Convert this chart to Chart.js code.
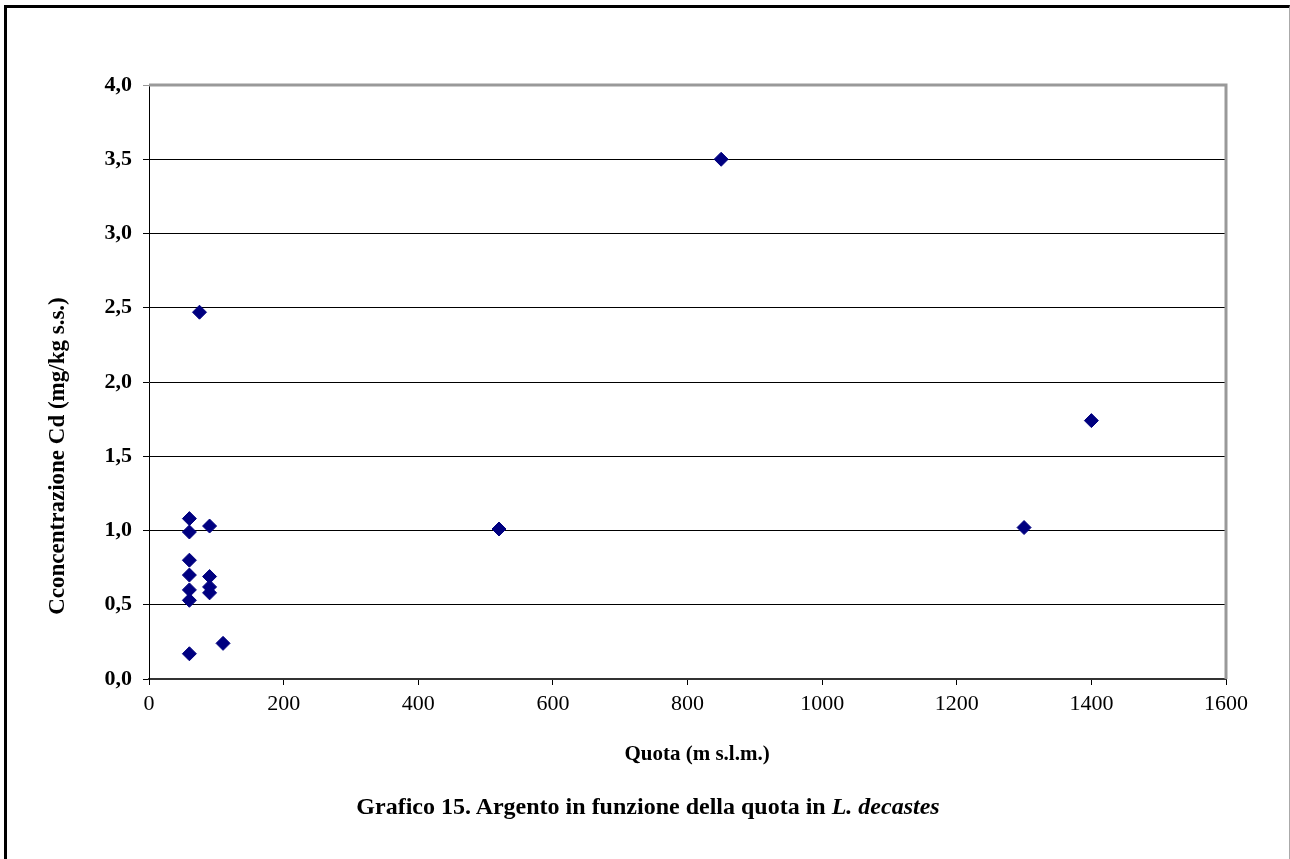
<!DOCTYPE html>
<html>
<head>
<meta charset="utf-8">
<script src="https://cdn.jsdelivr.net/npm/chart.js@4/dist/chart.umd.min.js"></script>
<style>
  html, body { margin: 0; padding: 0; background: #fff; }
  #wrap { position: relative; width: 1290px; height: 859px; }
  #frame {
    position: absolute; left: 4px; top: 5px; width: 1286px; height: 860px;
    border-left: 3px solid #000; border-top: 3px solid #000; border-right: 1px solid #aaa;
    box-sizing: border-box; pointer-events: none;
  }
  #caption {
    position: absolute; left: 0; width: 1296px; top: 793px; text-align: center;
    font-family: 'Liberation Serif', 'Times New Roman', serif; font-weight: bold; font-size: 24px; color: #000;
  }
</style>
</head>
<body>
<div id="wrap">
  <canvas id="chart-quota"></canvas>
  <div id="frame"></div>
  <div id="caption">Grafico 15. Argento in funzione della quota in <i>L. decastes</i></div>
</div>
<script>
// Quota (m s.l.m.) vs concentrazione Cd (mg/kg s.s.)
const quota   = [60, 60, 90, 60, 60, 60, 60, 90, 90, 90, 60, 110, 75, 850, 520, 1300, 1400];
const cadmio  = [1.08, 0.99, 1.03, 0.80, 0.70, 0.60, 0.53, 0.69, 0.62, 0.58, 0.17, 0.24, 2.47, 3.50, 1.01, 1.02, 1.74];
const xTicks  = [0, 200, 400, 600, 800, 1000, 1200, 1400, 1600];
const yTicks  = [0, 0.5, 1, 1.5, 2, 2.5, 3, 3.5, 4];
const xTitle  = 'Quota (m s.l.m.)';
const yTitle  = 'Cconcentrazione Cd (mg/kg s.s.)';

const serif = 'Liberation Serif';

// grey frame round the plot area (top + right) and the axis titles
const plotFrame = {
  id: 'plotFrame',
  afterDatasetsDraw(chart) {
    const { ctx, chartArea: a } = chart;
    ctx.save();
    ctx.strokeStyle = '#999';
    ctx.lineWidth = 3;
    ctx.beginPath();
    ctx.moveTo(a.left, a.top);
    ctx.lineTo(a.right, a.top);
    ctx.lineTo(a.right, a.bottom);
    ctx.stroke();

    ctx.fillStyle = '#000';
    ctx.textAlign = 'center';
    ctx.textBaseline = 'middle';
    ctx.font = 'bold 21px "Liberation Serif"';
    ctx.fillText(xTitle, 697, 755);

    ctx.translate(58, 456);
    ctx.rotate(-Math.PI / 2);
    ctx.font = 'bold 23px "Liberation Serif"';
    ctx.fillText(yTitle, 0, 0);
    ctx.restore();
  }
};

const points = quota.map((q, i) => ({ x: q, y: cadmio[i] }));

new Chart(document.getElementById('chart-quota').getContext('2d'), {
  type: 'scatter',
  data: {
    datasets: [{
      label: 'Cd',
      data: points,
      pointStyle: 'rectRot',
      pointRadius: 7,
      pointHoverRadius: 7,
      backgroundColor: '#000080',
      borderColor: '#000080',
      borderWidth: 1
    }]
  },
  options: {
    responsive: true,
    maintainAspectRatio: false,
    animation: false,
    layout: { padding: { left: 44, top: 85, right: 64, bottom: 93 } },
    plugins: {
      legend: { display: false },
      tooltip: { enabled: false }
    },
    scales: {
      x: {
        type: 'linear',
        min: 0,
        max: 1600,
        afterBuildTicks: scale => { scale.ticks = xTicks.map(v => ({ value: v })); },
        afterFit: scale => { scale.height = 87; },
        ticks: {
          font: { family: serif, size: 22 },
          color: '#000',
          padding: 6,
          maxRotation: 0,
          callback: v => String(v)
        },
        grid: { drawOnChartArea: false, tickLength: 6, color: '#000' },
        border: { color: '#333', width: 2 }
      },
      y: {
        type: 'linear',
        min: 0,
        max: 4,
        afterBuildTicks: scale => { scale.ticks = yTicks.map(v => ({ value: v })); },
        afterFit: scale => { scale.width = 105; },
        ticks: {
          font: { family: serif, size: 22, weight: 'bold' },
          color: '#000',
          padding: 11,
          callback: v => v.toFixed(1).replace('.', ',')
        },
        grid: {
          tickLength: 6,
          color: c => (c.tick && c.tick.value === 4 ? '#999' : '#000'),
          lineWidth: 1
        },
        border: { color: '#000', width: 1 }
      }
    }
  },
  plugins: [plotFrame]
});
</script>
</body>
</html>
